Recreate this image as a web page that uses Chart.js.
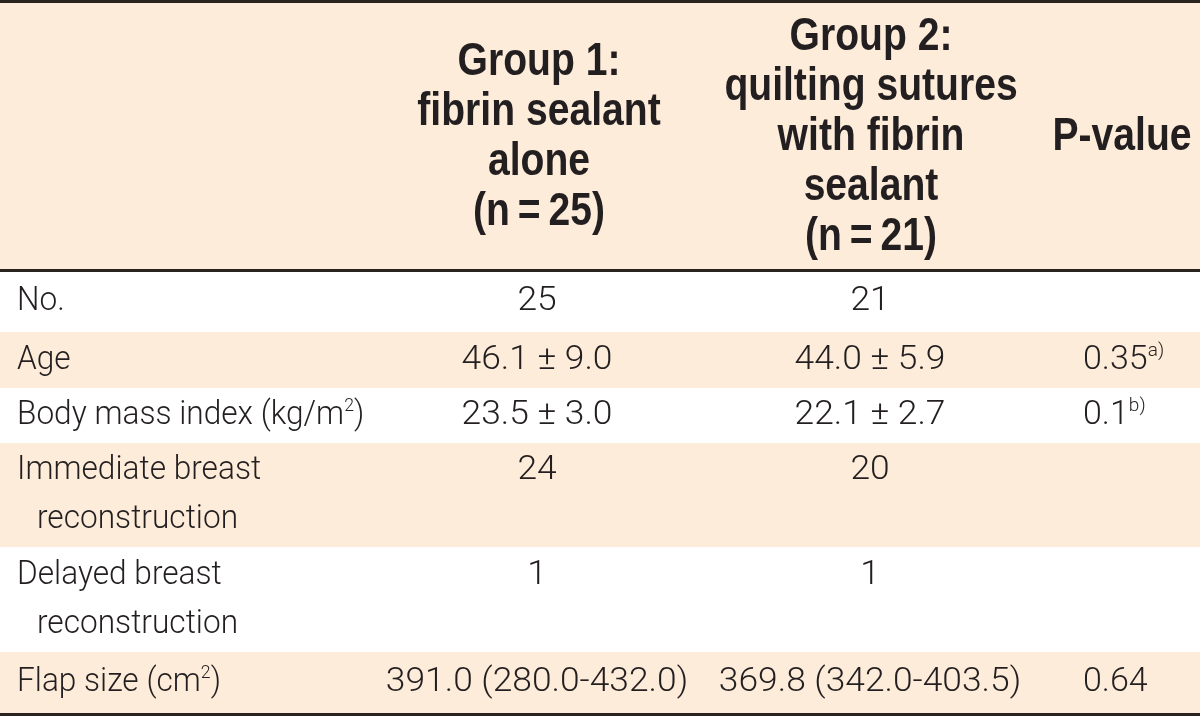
<!DOCTYPE html>
<html>
<head>
<meta charset="utf-8">
<script src="https://cdn.jsdelivr.net/npm/chart.js@4.4.1/dist/chart.umd.min.js"></script>
<style>
  html, body { margin: 0; padding: 0; background: #fff; }
  canvas { display: block; }
</style>
</head>
<body>
<canvas id="table" width="1200" height="716"></canvas>
<script>
// ---- table content ----
const headerLabels = [
    [],
    ['Group 1:', 'fibrin sealant', 'alone', '(n\u2009=\u200925)'],
    ['Group 2:', 'quilting sutures', 'with fibrin', 'sealant', '(n\u2009=\u200921)'],
    ['P-value']
];
const rowLabels = [
    ['No.'],
    ['Age'],
    ['Body mass index (kg/m^{2})'],
    ['Immediate breast', 'reconstruction'],
    ['Delayed breast', 'reconstruction'],
    ['Flap size (cm^{2})']
];
const group1Values = ['25', '46.1 \u00b1 9.0', '23.5 \u00b1 3.0', '24', '1', '391.0 (280.0-432.0)'];
const group2Values = ['21', '44.0 \u00b1 5.9', '22.1 \u00b1 2.7', '20', '1', '369.8 (342.0-403.5)'];
const pValues = ['', '0.35^{a)}', '0.1^{b)}', '', '', '0.64'];

// ---- layout (table units = px) ----
const TABLE_W = 1200, TABLE_H = 716;
const rowEdges = [3, 271, 332, 388, 443, 547, 652, 713]; // header + 6 rows
const shadedRows = [0, 2, 4, 6];
const rules = [[0, 3], [269, 272], [713, 716]];
const headerX = [0, 539, 871, 1122];
const labelX = 17, wrapIndent = 20, group1X = 537, group2X = 870, pX = 1083;
const headerGap = 50, bodyGap = 49;

const SHADE = '#fdecd9';
const RULE = '#2a221f';
const INK = '#231f20';
const HEADER_FONT = "'Liberation Sans', Arial, sans-serif";
const BODY_FONT = "Roboto, 'Liberation Sans', Arial, sans-serif";

const rowCenter = i => (rowEdges[i] + rowEdges[i + 1]) / 2;
const firstLine = i => rowCenter(i + 1) - (rowLabels[i].length - 1) * bodyGap / 2;
const headerTop = i => rowCenter(0) - (headerLabels[i].length - 1) * headerGap / 2;

// draws text with ^{...} superscripts, optionally squeezed horizontally
function drawRich(ctx, str, x, y, align, size, weight, family, stretch) {
    const parts = str.split(/\^\{([^}]*)\}/);
    const fontFor = sup => `${weight} ${sup ? Math.round(size * 0.56) : size}px ${family}`;
    let total = 0;
    parts.forEach((p, i) => { ctx.font = fontFor(i % 2); total += ctx.measureText(p).width; });
    ctx.save();
    ctx.translate(align === 'center' ? x - total * stretch / 2 : x, y);
    ctx.scale(stretch, 1);
    ctx.textAlign = 'left';
    let cx = 0;
    parts.forEach((p, i) => {
        ctx.font = fontFor(i % 2);
        ctx.fillText(p, cx, i % 2 ? -size * 0.27 : 0);
        cx += ctx.measureText(p).width;
    });
    ctx.restore();
}

const tablePlugin = {
    id: 'tablePlugin',
    beforeDatasetsDraw(chart) {
        const { ctx, scales: { x, y } } = chart;
        const left = x.getPixelForValue(0), right = x.getPixelForValue(TABLE_W);
        ctx.save();
        ctx.fillStyle = SHADE;
        shadedRows.forEach(r => {
            const top = y.getPixelForValue(rowEdges[r]);
            const bot = y.getPixelForValue(rowEdges[r + 1]);
            ctx.fillRect(left, top, right - left, bot - top);
        });
        ctx.fillStyle = RULE;
        rules.forEach(([a, b]) => {
            const top = y.getPixelForValue(a);
            ctx.fillRect(left, top, right - left, y.getPixelForValue(b) - top);
        });
        ctx.restore();
    },
    afterDatasetsDraw(chart) {
        const { ctx } = chart;
        ctx.save();
        ctx.fillStyle = INK;
        ctx.textBaseline = 'middle';
        chart.data.datasets.forEach((ds, di) => {
            const meta = chart.getDatasetMeta(di);
            meta.data.forEach((pt, j) => {
                ds.cells[j].forEach((line, k) => {
                    const px = pt.x + (k > 0 && ds.indent ? wrapIndent : 0);
                    drawRich(ctx, line, px, pt.y + k * ds.gap, ds.align, ds.size, ds.weight, ds.family, ds.stretch);
                });
            });
        });
        ctx.restore();
    }
};

const bodyColumn = (label, values, x, align, extra) => Object.assign({
    label: label,
    data: values.map((v, i) => ({ x: x, y: firstLine(i) })),
    cells: values.map(v => Array.isArray(v) ? v : [v]),
    align: align, size: 34, weight: '300', family: BODY_FONT, gap: bodyGap, stretch: 1.04
}, extra || {});

new Chart(document.getElementById('table'), {
    type: 'scatter',
    data: {
        datasets: [
            {
                label: 'header',
                data: headerLabels.map((h, i) => ({ x: headerX[i], y: headerTop(i) })),
                cells: headerLabels,
                align: 'center', size: 46, weight: 'bold', family: HEADER_FONT, gap: headerGap, stretch: 0.85
            },
            bodyColumn('labels', rowLabels, labelX, 'left', { indent: true, stretch: 0.93 }),
            bodyColumn('group1', group1Values, group1X, 'center'),
            bodyColumn('group2', group2Values, group2X, 'center'),
            bodyColumn('pvalue', pValues, pX, 'left', { stretch: 1 })
        ]
    },
    options: {
        responsive: false,
        animation: false,
        layout: { padding: 0 },
        elements: { point: { radius: 0, hoverRadius: 0 } },
        plugins: { legend: { display: false }, tooltip: { enabled: false } },
        scales: {
            x: { type: 'linear', min: 0, max: TABLE_W, display: false },
            y: { type: 'linear', min: 0, max: TABLE_H, reverse: true, display: false }
        }
    },
    plugins: [tablePlugin]
});
</script>
</body>
</html>
